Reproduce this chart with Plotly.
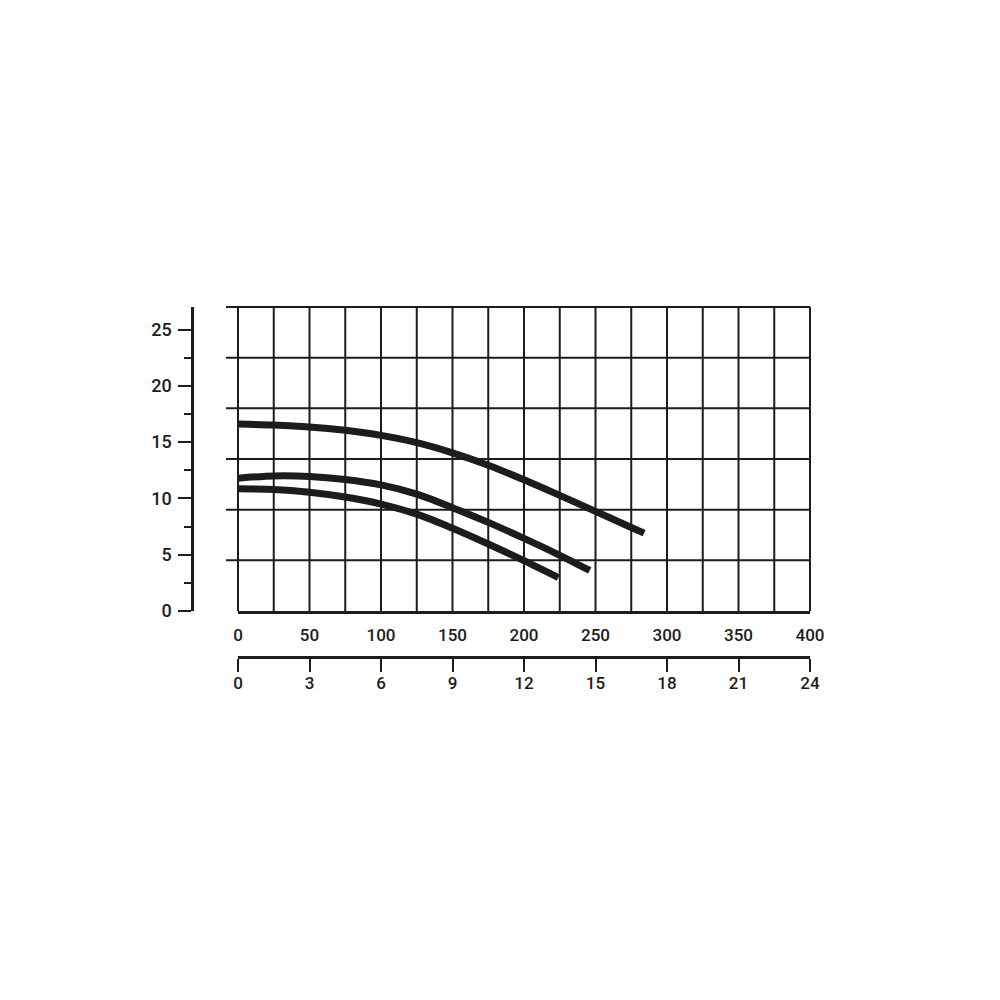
import plotly.graph_objects as go

# ---------------- data ----------------
flow_ticks = [0, 50, 100, 150, 200, 250, 300, 350, 400]
flow2_ticks = [0, 3, 6, 9, 12, 15, 18, 21, 24]
head_ticks = [0, 5, 10, 15, 20, 25]
head_minor = [2.5, 7.5, 12.5, 17.5, 22.5]
grid_flow = [0, 25, 50, 75, 100, 125, 150, 175, 200, 225, 250, 275, 300, 325, 350, 375, 400]
grid_head = [4.5, 9, 13.5, 18, 22.5, 27]

q_a = [0, 25, 50, 75, 100, 125, 150, 175, 200, 225, 250, 275, 284]
h_a = [16.6, 16.52, 16.35, 16.05, 15.6, 14.95, 14.05, 12.95, 11.65, 10.27, 8.85, 7.42, 6.92]

q_b = [0, 25, 50, 75, 100, 125, 150, 175, 200, 225, 246]
h_b = [11.8, 12.0, 11.95, 11.68, 11.2, 10.38, 9.18, 7.87, 6.45, 4.95, 3.6]

q_c = [0, 25, 50, 75, 100, 125, 150, 175, 200, 224]
h_c = [10.85, 10.8, 10.55, 10.12, 9.5, 8.6, 7.35, 5.95, 4.47, 2.97]

# ---------------- style ----------------
INK = "#1c1c1c"
FONT = "Roboto"
X_MAX = 400
X2_MAX = 24
Y_MAX = 27
L, R, T, B = 142, 198, 299, 351
W = 1000 - L - R
H = 1000 - T - B
x_dom0 = 88 / W          # plot area starts 88 px right of paper edge
y_dom0 = 46 / H          # plot area bottom is 46 px above secondary axis
plot_w = W * (1 - x_dom0)

fig = go.Figure()
for q, h in [(q_a, h_a), (q_b, h_b), (q_c, h_c)]:
    fig.add_trace(go.Scatter(x=q, y=h, mode="lines",
                             line=dict(color=INK, width=7, shape="spline", smoothing=0.7),
                             hoverinfo="skip", showlegend=False))
# helper trace for the secondary flow axis
fig.add_trace(go.Scatter(x=[0, X2_MAX], y=[None, None], xaxis="x2", yaxis="y",
                         mode="lines", hoverinfo="skip", showlegend=False))

shapes = []
for q in grid_flow:
    shapes.append(dict(type="line", xref="x domain", yref="y domain",
                       x0=q / X_MAX, x1=q / X_MAX, y0=0, y1=1,
                       line=dict(color=INK, width=2), layer="below"))
for h in grid_head:
    shapes.append(dict(type="line", xref="x domain", yref="y domain",
                       x0=-12 / plot_w, x1=1, y0=h / Y_MAX, y1=h / Y_MAX,
                       line=dict(color=INK, width=2), layer="below"))

tick_font = dict(family=FONT, size=17, color=INK, weight=500)

fig.update_layout(
    width=1000, height=1000, autosize=False,
    margin=dict(l=L, r=R, t=T, b=B, pad=0),
    paper_bgcolor="white", plot_bgcolor="white",
    font=dict(family=FONT, color=INK),
    shapes=shapes,
    xaxis=dict(domain=[x_dom0, 1], range=[0, X_MAX], anchor="y",
               showline=True, linecolor=INK, linewidth=3,
               ticks="", tickmode="array", tickvals=flow_ticks,
               ticklabelstandoff=7,
               showgrid=False, zeroline=False, tickfont=tick_font),
    xaxis2=dict(domain=[x_dom0, 1], range=[0, X2_MAX], overlaying="x",
                anchor="free", position=0, side="bottom",
                showline=True, linecolor=INK, linewidth=2.5,
                ticks="outside", ticklen=13, tickwidth=2, tickcolor=INK,
                tickmode="array", tickvals=flow2_ticks,
                ticklabelstandoff=-3,
                showgrid=False, zeroline=False, tickfont=tick_font),
    yaxis=dict(domain=[y_dom0, 1], range=[0, Y_MAX], anchor="free",
               position=42 / W,
               showline=True, linecolor=INK, linewidth=2.5,
               ticks="outside", ticklen=13, tickwidth=2, tickcolor=INK,
               tickmode="array", tickvals=head_ticks,
               ticklabelstandoff=3,
               minor=dict(ticks="outside", ticklen=7, tickwidth=2, tickcolor=INK,
                          tickmode="array", tickvals=head_minor),
               showgrid=False, zeroline=False,
               tickfont=dict(family=FONT, size=18, color=INK, weight=500)),
)

fig.write_html("out.html")
